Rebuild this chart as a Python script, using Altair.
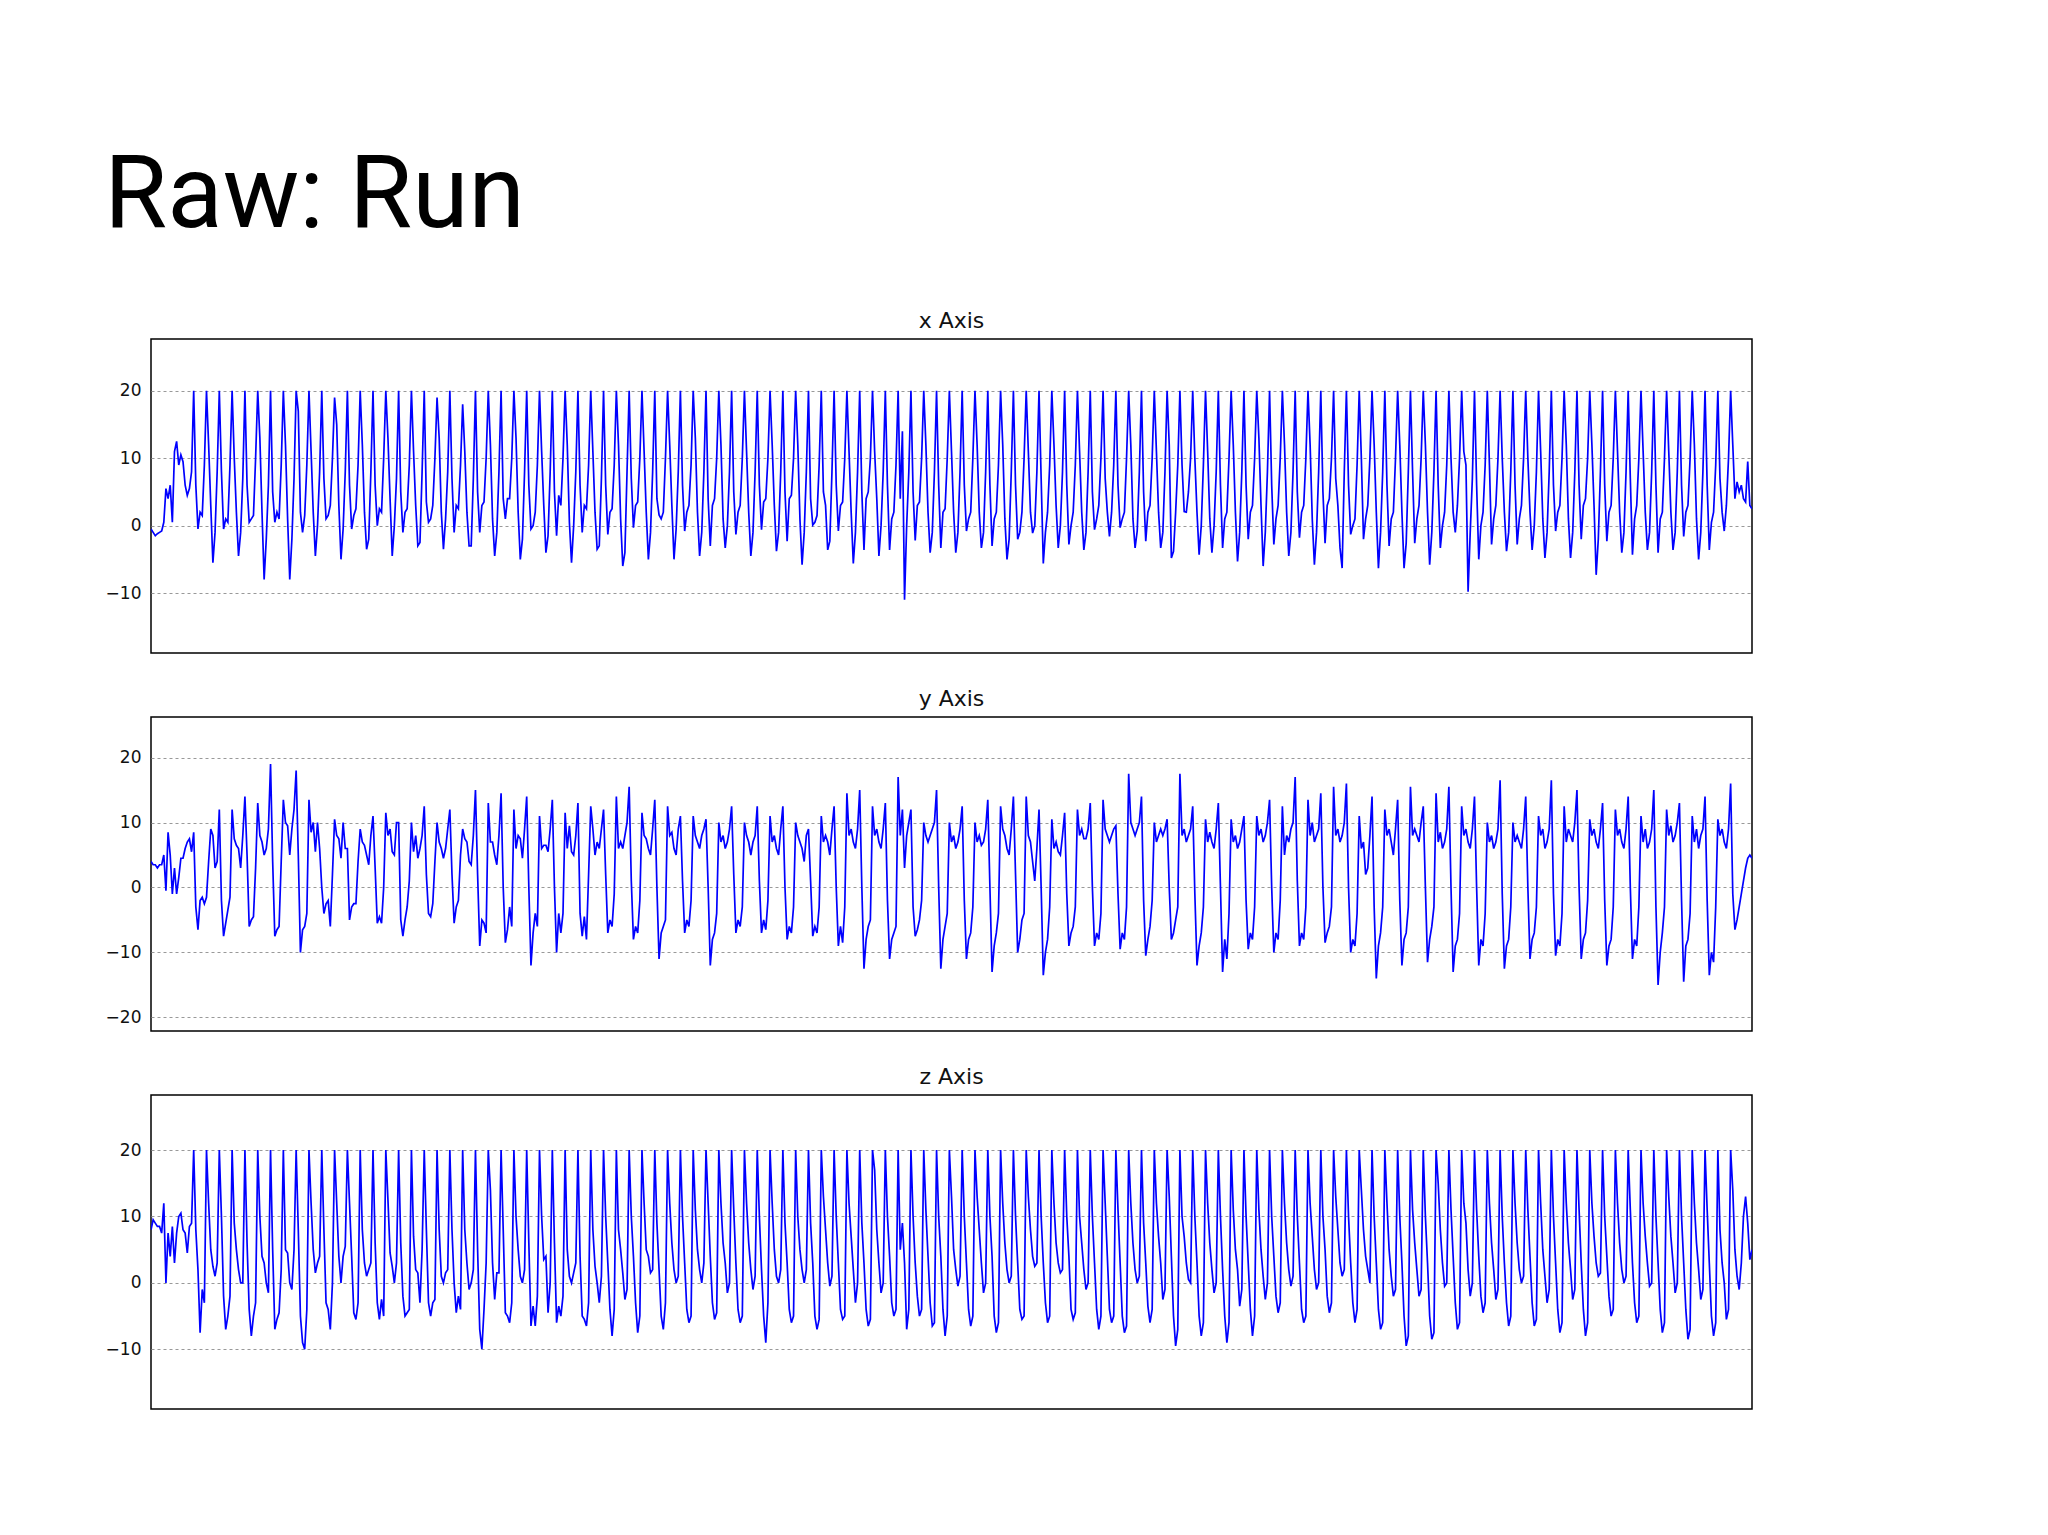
import altair as alt
import pandas as pd

# ---------------- data ----------------
# sample index 0..750 for all three series; one "step" = 6 samples, peaks at every step start

x_warm = [-0.5, -1, -1.5, -1.2, -1, -0.8, 0.5, 5.5, 4, 6, 0.5, 11, 12.5, 9, 10.5, 9.5, 6, 4.5, 5.5, 8]
x_steps = [
    [20, 6, -0.5, 2, 1.5, 9], [20, 12, 3, -5.5, -1, 8], [20, 8, -0.5, 1, 0.5, 9], [20, 10, 2, -4.5, -1, 7],
    [20, 6, 0.5, 1, 1.5, 10], [20, 13, 2, -8, -2, 6], [20, 5, 0.5, 2, 1, 9], [20, 12, 1, -8, -2, 7],
    [20, 17, 2, -1, 1.5, 9], [20, 11, 2, -4.5, 0, 8], [20, 7, 1, 1.5, 3, 10], [19, 15, 3, -5, -0.5, 8],
    [20, 6, -0.5, 1.5, 2.5, 9], [20, 12, 2, -3.5, -2, 8], [20, 6, 0, 2.5, 2, 10], [20, 13, 4, -4.5, 0, 7],
    [20, 5, -1, 2, 2.5, 9], [20, 11, 3, -3, -2.5, 8], [20, 3.5, 0.5, 1, 3, 10], [19, 13, 2, -3.5, 1, 8],
    [20, 7, -1, 3, 2.5, 9], [18, 11, 2, -3, -3, 7], [20, 5, -1, 3, 3.5, 10], [20, 12, 1, -4.5, -1, 8],
    [20, 4, 1, 4, 4, 10], [20, 13, 2, -5, -2, 8], [20, 6, -0.5, 0, 2, 9], [20, 11, 3, -4, -1.5, 8],
    [20, 5, -1.5, 4.5, 3, 10], [20, 12, 0.5, -5.5, 0, 8], [20, 6, -1, 3, 2.5, 9], [20, 11, 2, -3.5, -3, 7],
    [20, 6, -1.3, 2, 2.5, 9], [20, 12, 1, -6, -4, 8], [20, 7, -0.3, 3, 3.5, 10], [20, 11, 2, -5, -1, 8],
    [20, 4, 1.6, 1, 2, 10], [20, 12, 3, -5, -0.5, 8], [20, 6, -0.8, 2, 3, 9], [20, 13, 2, -4.5, -1, 8],
    [20, 4, -3, 3, 4, 10], [20, 12, 1, -3.3, 0, 8], [20, 5, -1.3, 2, 3, 10], [20, 11, 2, -4.5, -1, 8],
    [20, 6, -0.6, 3.5, 4, 10], [20, 12, 3, -3.8, -1, 8], [20, 5, -2.3, 4, 4.5, 10], [20, 12, 1, -5.8, -1, 8],
    [20, 4, 0.1, 0.5, 1.5, 9], [20, 5, 3, -3.6, -2.3, 8], [20, 6, -0.8, 3, 3.5, 10], [20, 11, 2, -5.6, -1, 8],
    [20, 5, -3.6, 4, 5, 10], [20, 11, 4, -4.5, 0, 8], [20, 6, -3.6, 1, 2, 9], [20, 4, 14, -11, 0, 8],
    [20, 5, -2.2, 3, 3.5, 10], [20, 12, 2, -4, -1, 8], [20, 6, -3.3, 2, 2.5, 10], [20, 11, 2, -4, -1, 8],
    [20, 6, -0.8, 1, 2, 10], [20, 12, 2, -3.3, -1, 8], [20, 6, -3, 1, 2, 9], [20, 12, 1, -5, -2, 8],
    [20, 6, -2, -1, 2, 10], [20, 11, 2, -1.1, 0, 8], [20, 7, -5.6, -1, 2, 9], [20, 12, 3, -3.3, 0, 8],
    [20, 6, -2.8, 0, 2, 9], [20, 11, 2, -3.6, -1, 8], [20, 5, -0.6, 1, 3, 10], [20, 7, 2, -1.6, 2, 9],
    [20, 6, -0.3, 1, 2, 10], [20, 12, 1, -3.3, -0.8, 8], [20, 5, -2.3, 2, 3, 10], [20, 11, 2, -3.3, -1, 8],
    [20, 12, -4.8, -3.8, 2, 9], [20, 9, 2.1, 2, 5, 10], [20, 10, 2, -4.3, 0, 9], [20, 11, 1, -4, 0, 8],
    [20, 6, -3.3, 1, 2, 10], [20, 12, 2, -5.3, -1, 8], [20, 6, -2, 2, 3, 10], [20, 13, 3, -6, -1, 8],
    [20, 6, -2.8, 1, 3, 10], [20, 12, 2, -4.5, -1, 8], [20, 5, -1.8, 2, 3, 10], [20, 12, 1, -5.8, -1, 8],
    [20, 5, -2.6, 3, 4, 10], [20, 7, 3, -3.3, -6.3, 8], [20, 6, -1.3, 0, 1, 9], [20, 10, -2, 1, 3, 10],
    [20, 12, 2, -6.3, -1, 8], [20, 6, -3, 1, 2, 10], [20, 12, 2, -6.3, -2.6, 8], [20, 8, -2.6, 1, 3, 10],
    [20, 12, 2, -5.8, -1, 8], [20, 6, -3.3, 0, 2, 9], [20, 10, 2, -1, 3, 10], [20, 11, 9, -9.8, -1, 7],
    [20, 6, -5, 0, 2, 9], [20, 9, -2.8, 1, 3, 10], [20, 10, 2, -3.8, -1, 8], [20, 6, -2.8, 1, 3, 10],
    [20, 10, 2, -3.6, 0, 8], [20, 11, 1, -4.8, -1, 8], [20, 6, -0.8, 2, 3, 10], [20, 12, 1, -4.8, -1, 8],
    [20, 6, -2, 3, 4, 10], [20, 12, 3, -7.3, -2, 8], [20, 6, -2.3, 2, 3, 10], [20, 11, 2, -4, -1, 8],
    [20, 7, -4.3, 1, 3, 10], [20, 11, 2, -3.6, -1, 8], [20, 6, -4, 1, 2, 10], [20, 11, 2, -3.6, -1, 8],
    [20, 6, -1.6, 2, 3, 10], [20, 12, 1, -5, -1, 8], [20, 6, -3.6, 0.5, 2, 9], [20, 7, 2, -0.8, 3, 10],
]
x_end = [20, 12, 4, 6.5, 5, 6, 4, 3.5, 9.5, 3, 2.5]

y_warm = [4, 3.5, 3.5, 3, 3.5, 3.5, 5, -0.5, 8.5, 5, -1, 3, -1, 1.5, 4.5, 4.5, 6, 7, 7.5, 5.5]
y_strides = [
    [8.5, -3, -6.5, -2, -1.5, -2.5, -1.5, 4, 9, 8, 3, 4],
    [12, -2, -7.5, -5.5, -3.5, -1.5, 12, 7.5, 6.5, 6, 3, 8],
    [14, 5, -6, -5, -4.5, 3, 13, 8, 7, 5, 6, 9],
    [19, 4, -7.5, -6.5, -6, 4, 13.5, 10, 9.5, 5, 9, 12],
    [18, 5, -10, -6.5, -6, -4, 13.5, 8.5, 10, 5.5, 10, 6],
    [0, -4, -2.5, -2, -6, 2, 10.5, 8, 7.5, 4.5, 10, 6],
    [6, -5, -3, -2.5, -2.5, 4, 9, 7, 6.5, 5, 3.5, 8],
    [11, 3, -5.5, -4.5, -5.5, 0, 11.5, 8, 9, 5.5, 5, 10],
    [10, -5, -7.5, -5, -3, 1, 10, 5.5, 8, 4.5, 6, 8],
    [12.5, 2, -4, -4.5, -2.5, 4, 10, 7, 6, 4.5, 6, 9],
    [12, 2, -5.5, -3, -2, 5, 9, 7.5, 7, 4, 3.5, 8],
    [15, 2, -9, -5, -5.5, -7, 13, 7, 7, 5, 3.5, 8],
    [14.5, 0, -8.5, -6.5, -3, -6, 12, 6, 8, 7.5, 4.5, 9],
    [14, 0, -12, -7, -4, -6, 11, 6, 6.5, 6.5, 5.5, 9],
    [13.5, 0, -10, -4, -7, -4, 11.5, 6, 9.5, 5.5, 5, 8],
    [13, -4, -7.5, -4.5, -8, 2, 12.5, 9, 5, 7, 6, 9],
    [12, 2, -7, -5, -6, -1, 14, 6, 7, 6, 8, 10],
    [15.5, 1, -8, -6, -7, -2, 11.5, 8, 7.5, 6, 5, 9],
    [13.5, 0, -11, -7, -6, -5, 12.5, 8, 8.5, 6, 5, 9],
    [11, 1, -7, -5, -6, -2, 11, 8, 7, 6, 8, 9],
    [10.5, 0, -12, -8, -7, -4, 10, 7, 8, 6, 7, 9],
    [12.5, 2, -7, -5, -6, -3, 10, 8, 7, 5, 7, 8],
    [12.5, 1, -7, -5, -6.5, -2, 11, 7, 8, 6, 5, 9],
    [12.5, 0, -8, -6, -7, -3, 10, 8, 7, 6, 4, 8],
    [9, 1, -7.5, -6, -7, -3, 11, 7, 8, 7, 5, 9],
    [12.5, 0, -9, -6, -8.5, -3, 14.5, 8, 9, 7, 6, 9],
    [15, 0, -12.5, -8, -6, -5, 12.5, 8, 9, 7, 6, 9],
    [13, -2, -11, -8, -7, -6, 17, 8, 12, 3, 8, 10],
    [12, -3, -7.5, -6.5, -5, -2, 10, 8, 7, 8, 9, 10],
    [15, 0, -12.5, -8, -6, -4, 10, 7, 8, 6, 7, 9],
    [12.5, -2, -11, -8, -7, -3, 10, 7, 8, 6.5, 7, 9],
    [13.5, 0, -13, -9, -7, -4, 12.5, 9, 8, 6, 5, 9],
    [14, 2, -10, -8, -5, -4, 14, 8, 7, 4, 1, 6],
    [12, 0, -13.5, -10, -8, -3, 10.5, 6, 7, 5.5, 5, 8],
    [11.5, -1, -9, -7, -6, -3, 12, 8, 9, 7.5, 7.5, 9],
    [13, 0, -9, -7, -8, -4, 13.5, 9, 8, 7, 8, 9],
    [9.5, -1, -9.5, -7, -8, -3, 17.5, 10, 9, 8, 9, 10],
    [14, -2, -10.5, -8, -6, -2, 10, 7, 8, 9, 8, 9],
    [10.5, 0, -8, -7, -5, -3, 17.5, 8, 9, 7, 8, 9],
    [12.5, -1, -12, -9, -7, -3, 10.5, 7, 8.5, 7, 6, 9],
    [13, 0, -13, -8, -11, -4, 10.5, 7, 8, 6, 7, 9],
    [11, -2, -9.5, -7, -8, -3, 11, 8, 9, 7, 8, 10],
    [13.5, 0, -10, -7, -8, -2, 12.5, 5, 8, 7, 9, 10],
    [17, 1, -9, -7, -8, -3, 13.5, 8, 10, 7, 8, 9],
    [14.5, 0, -8.5, -7, -6, -3, 15.5, 8, 9, 7, 8, 10],
    [16, 0, -10, -8, -9, -4, 11, 6, 7, 2, 3, 8],
    [14, -3, -14, -9, -7, -3, 12, 8, 9, 7, 5, 9],
    [13.5, -2, -12, -8, -7, -3, 15.5, 8, 9, 8, 7, 10],
    [12.5, 0, -11.5, -8, -6, -3, 14.5, 7, 8.5, 6, 7, 9],
    [15.5, 0, -13, -9, -8, -4, 12.5, 8, 9, 7, 6, 9],
    [14, 0, -12, -8, -9, -4, 10, 7, 8, 6, 7, 9],
    [16.5, -1, -12.5, -9, -8, -3, 10, 7, 8, 7, 6, 9],
    [14, 0, -11, -8, -7, -3, 11, 8, 9, 6, 7, 9],
    [16.5, -1, -10.5, -8, -9, -4, 12.5, 7, 9, 8, 7, 10],
    [15, 0, -11, -8, -7, -2, 10.5, 8, 9, 7, 6, 9],
    [13, -2, -12, -9, -8, -3, 12, 8, 9, 7, 6, 9],
    [14, 0, -11, -8, -9, -3, 11, 7, 9, 6, 7, 9],
    [15, -3, -15, -10, -7, -3, 12, 8, 9.5, 7, 8, 10],
    [13, -2, -14.5, -9, -8, -4, 11, 7, 9, 6, 8, 9],
    [14, -2, -13.5, -10, -11.5, -3, 10.5, 8, 9, 7, 6, 9],
]
y_end = [16, -1, -6.5, -5, -3, -1, 1, 3, 4.5, 5, 4.5]

z_warm = [8, 9.5, 9, 8.5, 8.5, 7.5, 12, 0, 7.5, 4, 8.5, 3, 7.5, 10, 10.5, 8, 7.5, 4.5, 8.5, 9]
z_steps = [
    [20, 8, 2, -7.5, -1, -3], [20, 12, 5, 2.5, 1, 3], [20, 10, -2, -7, -5, -2], [20, 9, 5, 2, 0, 0],
    [20, 6, -4, -8, -5, -3], [20, 10, 4, 3, 0, -1.5], [20, 5, -7, -5.5, -4.5, 2], [20, 5, 4.5, 0, -1, 5],
    [20, 8, -5, -9, -10, -4], [20, 12, 5, 1.5, 3, 4], [20, 8, -3, -4, -7, 0], [20, 12, 4, 0, 4, 5.5],
    [20, 12, 4, -4.5, -5.5, -3], [20, 8, 3, 1, 2, 3], [20, 6, -3, -5.5, -2.5, -5], [20, 12.5, 4.5, 2.5, 0, 3],
    [20, 6, -2, -5, -4.5, -4], [20, 7, 2, 1.5, -3, 5], [20, 8, -3, -5, -3, -2.5], [20, 8, 1, 0, 1.5, 2],
    [20, 8, 0, -4.5, -2, -4], [20, 8, 3, -1, 0, 2], [20, 5, -7, -10, -4, 3], [20, 14, 3, -2.5, 1.5, 1.5],
    [20, 8, -4.5, -5, -6, -3], [20, 10, 5, 1, 0, 2], [20, 6, -6.5, -3.5, -6.5, -2], [20, 10, 3.5, 4, -4.5, 0],
    [20, 6, -6, -3.5, -5, -2], [20, 5, 1, 0, 1.5, 3], [20, 4, -5, -5.5, -6.5, -3], [20, 8, 2.5, 0, -3, 1],
    [20, 10, 3, -4, -8, -4], [20, 8, 5, 1.5, -2.5, -1], [20, 10, 4, -3, -7.5, -5], [20, 12, 5, 4, 1.5, 2],
    [20, 9, 2, -5, -7, -3], [20, 12, 6, 2, 0, 1], [20, 10, 3, -4, -6, -5], [20, 11, 5, 2, 0, 3],
    [20, 12, 4, -3, -5.5, -4.5], [20, 12, 6, 3, -1.5, 0], [20, 11, 3, -4, -6, -5], [20, 12, 6, 2, -1, 1],
    [20, 10, 2, -5, -9, -3], [20, 12, 5, 1, 0, 2], [20, 9, 3, -4, -6, -5], [20, 10, 5, 2, 0, 2],
    [20, 9, 3, -5, -7, -5.5], [20, 13, 8, 3, -0.5, 1], [20, 10, 3, -4, -5.5, -5], [20, 12, 7, 2, -3, 0],
    [20, 9, 3, -4, -6.5, -5.5], [20, 17, 8, 3, -1.5, 0], [20, 10, 4, -3, -5, -4], [20, 5, 9, 3, -7, -4],
    [20, 10, 3, -2, -5, -4], [20, 11, 4, -3, -6.5, -6], [20, 10, 4, -4, -8, -5], [20, 13, 5, 2, -0.5, 1],
    [20, 10, 3, -4, -6.5, -5], [20, 13, 8, 3, -1.5, 0], [20, 10, 4, -5, -7.5, -6], [20, 12, 6, 2, 0, 1],
    [20, 10, 3, -4, -5.5, -5], [20, 13, 8, 4, 2.5, 3], [20, 10, 3, -3, -6, -5], [20, 12, 6, 3, 1.5, 2],
    [20, 10, 4, -4, -5.5, -4.5], [20, 10, 6, 2, -1, 0], [20, 10, 3, -4, -7, -5], [20, 12, 4, -4, -6, -5],
    [20, 11, 3, -5, -7.5, -6.5], [20, 12, 6, 2, 0, 1], [20, 9, 3, -3.5, -6, -4], [20, 12, 7, 3, -2.5, -1],
    [20, 13, 4, -5, -9.5, -7], [20, 10, 7, 3, 0.5, 0], [20, 10, 3, -5, -8, -6], [20, 12, 6, 2, -1.5, 0],
    [20, 10, 2, -5, -9, -6], [20, 11, 5, 2, -3.5, -1], [20, 10, 3, -4, -8, -5], [20, 11, 5, 1, -2.5, 0],
    [20, 10, 4, -2, -4.5, -3], [20, 12, 6, 2, -0.5, 1], [20, 10, 3, -4, -6, -5], [20, 12, 7, 2, -1, 0],
    [20, 10, 5, -2, -4.5, -3], [20, 13, 8, 3, 1, 2], [20, 10, 3, -3, -6, -4], [20, 14, 8, 4, 2, 0],
    [20, 10, 3, -4, -7, -6], [20, 12, 5, 1, -2, -1], [20, 10, 3, -5, -9.5, -8], [20, 11, 6, 2, -2, -1],
    [20, 10, 3, -5, -8.5, -7.5], [20, 15, 8, 3, -0.5, 0], [20, 11, 4, -3, -7, -6], [20, 12, 9, 2, -2, 0],
    [20, 11, 4, -2, -4.5, -3], [20, 12, 6, 2, -2.5, -1], [20, 10, 3, -3, -6.5, -5], [20, 12, 6, 2, 0, 1],
    [20, 11, 4, -3, -6.5, -5.5], [20, 12, 5, 1, -3, -1], [20, 10, 3, -4, -7.5, -6], [20, 12, 6, 2, -2.5, -1],
    [20, 11, 3, -4, -8, -6], [20, 12, 7, 3, 1, 1.5], [20, 10, 4, -2, -5, -4], [20, 12, 6, 2, 0, 1],
    [20, 11, 3, -3, -6, -5], [20, 12, 7, 3, -0.5, 0], [20, 10, 3, -4, -7.5, -6], [20, 13, 7, 3, -1.5, 0],
    [20, 10, 3, -4, -8.5, -7], [20, 12, 6, 2, -2.5, -1], [20, 11, 3, -5, -8, -6], [20, 8, 3, 0, -5.5, -4],
]
z_end = [20, 14, 5, 1, -1, 3, 10, 13, 9, 3.5, 5]

panel_titles = ["x Axis", "y Axis", "z Axis"]
x_ticks = [20, 10, 0, -10]
y_ticks = [20, 10, 0, -10, -20]
z_ticks = [20, 10, 0, -10]
x_domain = [-18.9, 27.7]
y_domain = [-22.1, 26.25]
z_domain = [-19.0, 28.3]


def flat(rows):
    return [v for r in rows for v in r]


x_series = x_warm + flat(x_steps) + x_end
y_series = y_warm + flat(y_strides) + y_end
z_series = z_warm + flat(z_steps) + z_end


def panel(values, title, domain, ticks):
    df = pd.DataFrame({"i": list(range(len(values))), "v": values})
    return (
        alt.Chart(df)
        .mark_line(color="#0000ff", strokeWidth=1.7, clip=True)
        .encode(
            x=alt.X("i:Q", axis=None,
                    scale=alt.Scale(domain=[0, len(values) - 1], nice=False, zero=False)),
            y=alt.Y("v:Q",
                    scale=alt.Scale(domain=domain, nice=False, zero=False),
                    axis=alt.Axis(values=ticks, title=None, grid=True, gridDash=[3, 3],
                                  gridColor="#999999", gridWidth=1, domain=False, ticks=False,
                                  labelFont="DejaVu Sans", labelFontSize=17, labelColor="#111111",
                                  labelPadding=10)),
        )
        .properties(width=1601, height=314,
                    title=alt.TitleParams(title, font="DejaVu Sans", fontSize=22,
                                          fontWeight="normal", color="#111111",
                                          baseline="alphabetic", offset=-11))
    )


chart = (
    alt.vconcat(
        panel(x_series, panel_titles[0], x_domain, x_ticks),
        panel(y_series, panel_titles[1], y_domain, y_ticks),
        panel(z_series, panel_titles[2], z_domain, z_ticks),
        spacing=33,
    )
    .properties(
        title=alt.TitleParams("Raw: Run", anchor="start", font="Roboto", fontSize=102,
                              fontWeight="normal", color="#000000", baseline="alphabetic",
                              offset=-20),
        padding={"left": 96, "top": 137, "right": 20, "bottom": 20},
        background="white",
    )
    .configure_view(stroke="black", strokeWidth=1.5)
)

chart.save("out.html", embed_options={"renderer": "svg", "actions": False})
